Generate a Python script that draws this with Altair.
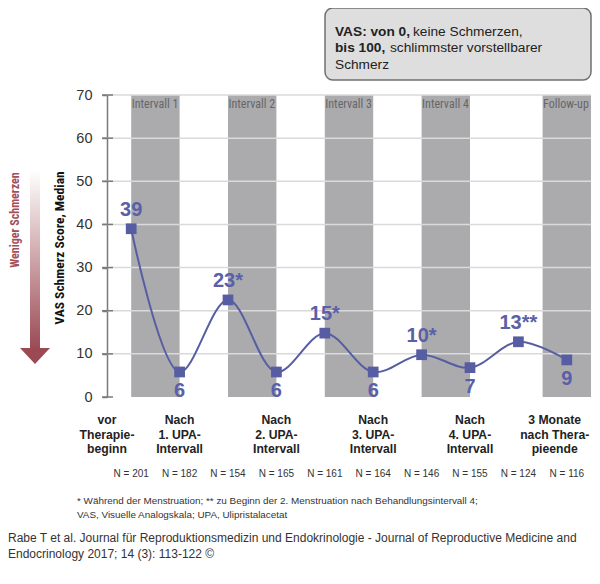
import altair as alt
import pandas as pd

# ---------------- data ----------------
x_pos = [0, 1, 2, 3, 4, 5, 6, 7, 8, 9]
vas_median = [39, 5.8, 22.5, 5.8, 14.8, 5.8, 9.8, 6.8, 12.8, 8.6]
value_labels = ["39", "6", "23*", "6", "15*", "6", "10*", "7", "13**", "9"]
label_above = [True, False, True, False, True, False, True, False, True, False]
n_labels = ["N = 201", "N = 182", "N = 154", "N = 165", "N = 161",
            "N = 164", "N = 146", "N = 155", "N = 124", "N = 116"]

band_names = ["Intervall 1", "Intervall 2", "Intervall 3", "Intervall 4", "Follow-up"]
band_start = [0, 2, 4, 6, 8.5]
band_end = [1, 3, 5, 7, 9.5]

cat_names = ["vor\nTherapie-\nbeginn", "Nach\n1. UPA-\nIntervall", "Nach\n2. UPA-\nIntervall",
             "Nach\n3. UPA-\nIntervall", "Nach\n4. UPA-\nIntervall", "3 Monate\nnach Thera-\npieende"]
cat_x = [-0.5, 1, 3, 5, 7, 8.75]

y_ticks = [0, 10, 20, 30, 40, 50, 60, 70]
y_title = "VAS Schmerz Score, Median"
arrow_label = "Weniger Schmerzen"
box_bold = ["VAS: von 0,", "bis 100,"]
box_regular = ["keine Schmerzen,", "schlimmster vorstellbarer", "Schmerz"]
footnotes = ["* Während der Menstruation; ** zu Beginn der 2. Menstruation nach Behandlungsintervall 4;",
             "VAS, Visuelle Analogskala; UPA, Ulipristalacetat"]
source = ["Rabe T et al. Journal für Reproduktionsmedizin und Endokrinologie - Journal of Reproductive Medicine and",
          "Endocrinology 2017; 14 (3): 113-122 ©"]

# ---------------- tables ----------------
pts = pd.DataFrame({"x": x_pos, "v": vas_median, "lab": value_labels,
                    "above": label_above, "n": n_labels})
bands = pd.DataFrame({"s": band_start, "e": band_end, "name": band_names})
cats = pd.DataFrame({"x": cat_x, "name": cat_names})
ticks = pd.DataFrame({"t": y_ticks})

W, H = 484, 302
SANS = "Liberation Sans, Arial, Helvetica, sans-serif"
NARROW = "Liberation Sans Narrow, Arial Narrow, Roboto Condensed, DejaVu Sans Condensed, sans-serif"
BLUE = "#575da3"

xs = alt.Scale(domain=[-0.5, 9.5], nice=False, zero=False)
ys = alt.Scale(domain=[0, 70], nice=False)


def X(f):
    return alt.X(f, scale=xs, axis=None)


band_layer = alt.Chart(bands).mark_rect(color="#ababae").encode(
    x=X("s:Q"), x2="e:Q",
    y=alt.datum(70, scale=ys), y2=alt.datum(0))

grid_layer = alt.Chart(ticks).transform_filter("datum.t > 0").mark_rule(
    color="#dadada", strokeWidth=1.5).encode(
    y=alt.Y("t:Q", scale=ys,
            axis=alt.Axis(values=y_ticks, grid=False, title=None, domainColor="#7a7a7a",
                          domainWidth=1.5, tickColor="#7a7a7a", tickSize=5, tickWidth=1.5,
                          labelPadding=10, labelFontSize=14.5, labelColor="#333333",
                          labelFont=SANS)),
    x=alt.value(0), x2=alt.value(W))

tick_layer = alt.Chart(ticks).mark_rule(color="#7a7a7a", strokeWidth=1.5).encode(
    y=alt.Y("t:Q", scale=ys), x=alt.value(-5), x2=alt.value(6))

band_text = alt.Chart(bands).mark_text(
    align="left", baseline="alphabetic", font=NARROW, fontSize=12, color="#666666", dx=0.5
).encode(x=X("s:Q"), y=alt.value(13), text="name:N")

line_layer = alt.Chart(pts).mark_line(color=BLUE, strokeWidth=2, interpolate="catmull-rom").encode(
    x=X("x:Q"), y=alt.Y("v:Q", scale=ys))

point_layer = alt.Chart(pts).mark_square(size=115, color=BLUE, opacity=1).encode(
    x=X("x:Q"), y=alt.Y("v:Q", scale=ys))

lab_above = alt.Chart(pts).transform_filter("datum.above").mark_text(
    font=SANS, fontWeight="bold", fontSize=20, color="#5a60a8", dy=-13, baseline="alphabetic"
).encode(x=X("x:Q"), y=alt.Y("v:Q", scale=ys), text="lab:N")

lab_below = alt.Chart(pts).transform_filter("!datum.above").mark_text(
    font=SANS, fontWeight="bold", fontSize=20, color="#5a60a8", dy=25, baseline="alphabetic"
).encode(x=X("x:Q"), y=alt.Y("v:Q", scale=ys), text="lab:N")

cat_layer = alt.Chart(cats).mark_text(
    font=SANS, fontWeight="bold", fontSize=12.2, color="#222222", lineBreak="\n",
    lineHeight=14.5, baseline="alphabetic", align="center"
).encode(x=X("x:Q"), y=alt.value(329), text="name:N")

n_layer = alt.Chart(pts).mark_text(
    font=SANS, fontSize=10, color="#333333", baseline="alphabetic"
).encode(x=X("x:Q"), y=alt.value(382), text="n:N")


def txt(text, x, y, **kw):
    return alt.Chart(pd.DataFrame({"t": [text]})).mark_text(**kw).encode(
        x=alt.value(x), y=alt.value(y), text="t:N")


one = pd.DataFrame({"a": [0]})

box = alt.Chart(one).mark_rect(fill="#dedede", stroke="#707070", strokeWidth=1.5,
                               cornerRadius=8).encode(
    x=alt.value(218), x2=alt.value(484), y=alt.value(-87), y2=alt.value(-15))

box_texts = [
    txt(box_bold[0], 228, -63, font=SANS, fontSize=13.7, fontWeight="bold", align="left", color="#222"),
    txt(box_regular[0], 306, -63, font=SANS, fontSize=13.7, align="left", color="#222"),
    txt(box_bold[1], 228, -47, font=SANS, fontSize=13.7, fontWeight="bold", align="left", color="#222"),
    txt(box_regular[1], 283, -47, font=SANS, fontSize=13.7, align="left", color="#222"),
    txt(box_regular[2], 228, -30, font=SANS, fontSize=13.7, align="left", color="#222"),
]

grad = alt.Gradient(gradient="linear",
                    stops=[alt.GradientStop(color="#ffffff", offset=0),
                           alt.GradientStop(color="#9b4a53", offset=1)],
                    x1=0, x2=0, y1=0, y2=1)
shaft = alt.Chart(one).mark_rect(fill=grad).encode(
    x=alt.value(-77), x2=alt.value(-67), y=alt.value(75), y2=alt.value(254))
head = alt.Chart(one).mark_point(shape="M -1 -0.53 L 1 -0.53 L 0 0.53 Z", size=900,
                                 filled=True, color="#9b4a53", opacity=1).encode(
    x=alt.value(-72), y=alt.value(261))

arrow_text = txt(arrow_label, -92, 125, font=NARROW, fontSize=12, fontWeight="bold",
                 color="#a44e59", angle=270, align="center", baseline="middle")
title_text = txt(y_title, -47, 153, font=NARROW, fontSize=13.5, fontWeight="bold",
                 color="#111", angle=270, align="center", baseline="middle")

foot_texts = [
    txt(footnotes[0], -30, 406, font=SANS, fontSize=9.9, color="#333", align="left"),
    txt(footnotes[1], -30, 420, font=SANS, fontSize=9.9, color="#333", align="left"),
    txt(source[0], -99, 443, font=SANS, fontSize=12, color="#333", align="left"),
    txt(source[1], -99, 459, font=SANS, fontSize=12, color="#333", align="left"),
]

chart = alt.layer(
    band_layer, grid_layer, tick_layer, band_text, line_layer, point_layer,
    lab_above, lab_below, cat_layer, n_layer, box, *box_texts, shaft, head,
    arrow_text, title_text, *foot_texts
).properties(
    width=W, height=H,
    padding={"left": 99, "top": 87, "right": 1, "bottom": 172},
    autosize="none",
    background="white",
).configure_view(stroke=None)

chart.save("out.html", embed_options={"renderer": "svg", "actions": False})
